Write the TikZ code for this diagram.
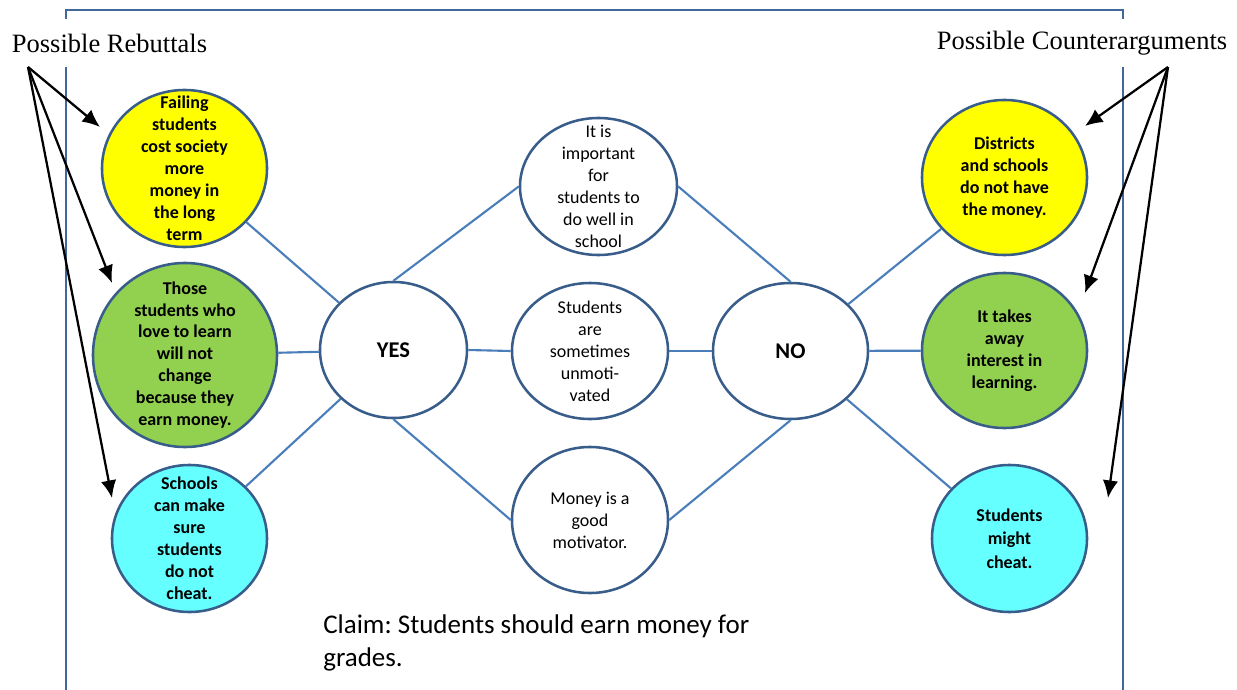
\documentclass[tikz,border=0pt]{standalone}
\usepackage{fontspec}
\setmainfont{Carlito}
\newfontfamily\headfont{Liberation Serif}
\frenchspacing
\usetikzlibrary{shapes.geometric,arrows.meta}
\definecolor{ylw}{HTML}{FFFF00}
\definecolor{grn}{HTML}{92D050}
\definecolor{cyn}{HTML}{66FFFF}
\definecolor{rim}{HTML}{385D8A}
\definecolor{wire}{HTML}{4A7EBB}
\definecolor{box}{HTML}{41689B}
\tikzset{
  >={Latex[length=12.5pt,width=11pt]},
}
\tikzstyle{frame}=[line width=1.6pt,draw=box]
\tikzstyle{bubble}=[ellipse,draw=rim,line width=1.8pt,inner sep=0pt]
\tikzstyle{btext}=[align=center,inner sep=0pt,font=\fontsize{12.8}{15.6}\selectfont\bfseries]
\tikzstyle{mtext}=[align=center,inner sep=0pt,font=\fontsize{12.8}{15.6}\selectfont]
\tikzstyle{vote}=[font=\fontsize{16}{19}\selectfont\bfseries]
\tikzstyle{wireline}=[line width=1.5pt,draw=wire]
\tikzstyle{pointer}=[line width=1.6pt,->]
\tikzstyle{heading}=[fill=white,inner xsep=2pt,minimum height=1.2cm,font=\headfont\fontsize{18.85}{22}\selectfont]

\begin{document}
\begin{tikzpicture}[x=0.025cm,y=-0.025cm]
        \useasboundingbox (0,0) rectangle (1237,690);
        \draw[frame] (66,690)--(66,10)--(1123,10)--(1123,690);
        \node[heading] (rebhead) at (109.5,43) {Possible Rebuttals};
        \node[heading] (ctrhead) at (1082,43) {Possible Counterarguments};

        % rebuttals
        \node[bubble,fill=ylw,minimum width=4.125cm,minimum height=3.925cm] (reb1) at (184.5,168.5) {};
        \node[btext] (reb1t) at (reb1) {Failing\\students\\cost society\\more\\money in\\the long\\term};
        \node[bubble,fill=grn,minimum width=4.6cm,minimum height=4.6cm] (reb2) at (185,355) {};
        \node[btext] (reb2t) at (reb2) {Those\\students who\\love to learn\\will not\\change\\because they\\earn money.};
        \node[bubble,fill=cyn,minimum width=3.875cm,minimum height=3.675cm] (reb3) at (189.5,538.5) {};
        \node[btext] (reb3t) at (reb3) {Schools\\can make\\sure\\students\\do not\\cheat.};

        % claim and reasons
        \node[bubble,fill=white,minimum width=3.675cm,minimum height=3.4cm] (yes) at (393.5,350) {};
        \node[vote] (yest) at (yes) {YES};
        \node[bubble,fill=white,minimum width=3.925cm,minimum height=3.425cm] (rsn1) at (598.5,186.5) {};
        \node[mtext] (rsn1t) at (rsn1) {It is\\important\\for\\students to\\do well in\\school};
        \node[bubble,fill=white,minimum width=3.9cm,minimum height=3.4cm] (rsn2) at (590,351) {};
        \node[mtext] (rsn2t) at (rsn2) {Students\\are\\sometimes\\unmoti-\\vated};
        \node[bubble,fill=white,minimum width=3.9cm,minimum height=3.65cm] (rsn3) at (590,520) {};
        \node[mtext] (rsn3t) at (rsn3) {Money is a\\good\\motivator.};
        \node[bubble,fill=white,minimum width=3.875cm,minimum height=3.4cm] (no) at (790.5,351) {};
        \node[vote] (not) at (no) {NO};

        % counterarguments
        \node[bubble,fill=ylw,minimum width=4.125cm,minimum height=3.875cm] (ctr1) at (1004.5,177.5) {};
        \node[btext] (ctr1t) at (ctr1) {Districts\\and schools\\do not have\\the money.};
        \node[bubble,fill=grn,minimum width=4.125cm,minimum height=3.875cm] (ctr2) at (1004.5,350.5) {};
        \node[btext] (ctr2t) at (ctr2) {It takes\\away\\interest in\\learning.};
        \node[bubble,fill=cyn,minimum width=3.875cm,minimum height=3.675cm] (ctr3) at (1009.5,538.5) {};
        \node[btext,font=\fontsize{12.8}{16.7}\selectfont\bfseries] (ctr3t) at (ctr3) {Students\\might\\cheat.};

        \node[anchor=north west,inner sep=0pt,align=left,font=\fontsize{19.2}{23.5}\selectfont] (claim) at (323,614) {Claim: Students should earn money for\\grades.};

        % links
        \draw[wireline] (reb1)--(yes);
        \draw[wireline] (reb2)--(yes);
        \draw[wireline] (reb3)--(yes);
        \draw[wireline] (yes.north)--(rsn1.west);
        \draw[wireline] (yes.east)--(rsn2.west);
        \draw[wireline] (yes.south)--(rsn3.west);
        \draw[wireline] (rsn1.east)--(no.north);
        \draw[wireline] (rsn2.east)--(no.west);
        \draw[wireline] (rsn3.east)--(no.south);
        \draw[wireline] (no)--(ctr1);
        \draw[wireline] (no)--(ctr2);
        \draw[wireline] (no)--(ctr3);

        % pointers
        \coordinate (rebsrc) at (28,67);
        \coordinate (reb1tip) at (100,127);
        \coordinate (reb2tip) at (112,283);
        \coordinate (reb3tip) at (112,498);
        \draw[pointer] (rebsrc)--(reb1tip);
        \draw[pointer] (rebsrc)--(reb2tip);
        \draw[pointer] (rebsrc)--(reb3tip);
        \coordinate (ctrsrc) at (1168,67);
        \coordinate (ctr1tip) at (1085,126);
        \coordinate (ctr2tip) at (1085,293);
        \coordinate (ctr3tip) at (1108,498);
        \draw[pointer] (ctrsrc)--(ctr1tip);
        \draw[pointer] (ctrsrc)--(ctr2tip);
        \draw[pointer] (ctrsrc)--(ctr3tip);
      \end{tikzpicture}
\end{document}
